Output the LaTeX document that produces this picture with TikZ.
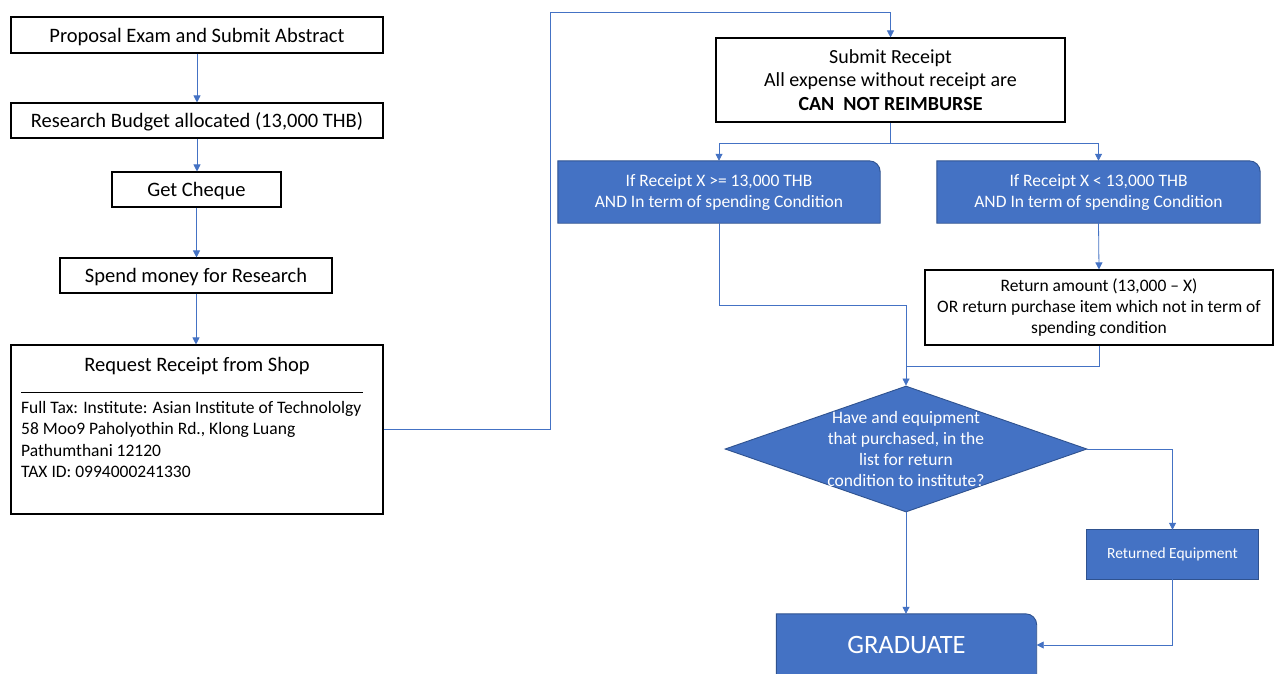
\documentclass[tikz,border=0pt]{standalone}
\usepackage{fontspec}
\setmainfont{Carlito}
\usetikzlibrary{arrows.meta,shapes.geometric,backgrounds}
\definecolor{bfill}{HTML}{4472C4}
\definecolor{bedge}{HTML}{2F528F}
\definecolor{lnk}{HTML}{4472C4}
\tikzset{
  wbox/.style={draw=black, line width=1.1pt, fill=white, inner sep=0pt, align=center},
  bbox/.style={inner sep=0pt, align=center, text=white},
  arr/.style={draw=lnk, line width=0.8pt, -{Triangle[width=7pt,length=7pt]}},
  ln/.style={draw=lnk, line width=0.8pt},
  bluebg/.style={fill=bfill, draw=bedge, line width=0.9pt},
  fa/.style={font=\fontsize{20.5}{24}\selectfont, text height=16.5pt, text depth=2pt},
  fb/.style={font=\fontsize{17.5}{21}\selectfont},
}
\newcommand\roundtr[1]{%
  \path[bluebg] (#1.south west) -- (#1.north west) -- ([xshift=-11pt]#1.north east)
    arc[start angle=90, end angle=0, radius=11pt] -- (#1.south east) -- cycle;}
\begin{document}
\begin{tikzpicture}[x=1pt, y=-1pt]
\useasboundingbox (0,0) rectangle (1277,673);

% left column
\node[wbox, minimum width=372pt, minimum height=36pt, fa] (p1) at (197,35) {Proposal Exam and Submit Abstract};
\node[wbox, minimum width=372pt, minimum height=35pt, fa] (p2) at (197,120.5) {Research Budget allocated (13,000 THB)};
\node[wbox, minimum width=169pt, minimum height=35pt, fa] (p3) at (196.5,189.5) {Get Cheque};
\node[wbox, minimum width=272pt, minimum height=35pt, fa] (p4) at (196,275.5) {Spend money for Research};
\node[wbox, minimum width=372pt, minimum height=169pt] (req) at (197,429.5) {};
\node[fa, inner sep=0pt] (reqtitle) at (197,364) {Request Receipt from Shop};
\draw[line width=0.8pt] (21,392) -- (363,392);
\node[anchor=north west, inner sep=0pt, align=left, font=\fontsize{17.5}{21.4}\selectfont] (reqbody) at (21,401)
  {Full Tax: Institute: Asian Institute of Technololgy\\58 Moo9 Paholyothin Rd., Klong Luang\\Pathumthani 12120\\TAX ID: 0994000241330};

% right part
\node[wbox, minimum width=349pt, minimum height=84pt, font=\fontsize{20}{23.5}\selectfont] (sub) at (890.5,80)
  {Submit Receipt\\All expense without receipt are\\\textbf{CAN\ \ NOT REIMBURSE}};
\node[bbox, minimum width=322pt, minimum height=62pt, fb] (b1) at (719,192)
  {If Receipt X >= 13,000 THB\\AND In term of spending Condition};
\node[bbox, minimum width=323pt, minimum height=62pt, fb] (b2) at (1098.5,192)
  {If Receipt X < 13,000 THB\\AND In term of spending Condition};
\node[wbox, minimum width=348pt, minimum height=75pt, fb] (ret) at (1099,307.5)
  {Return amount (13,000 – X)\\OR return purchase item which not in term of\\spending condition};
\node[diamond, bluebg, minimum width=362pt, minimum height=126pt, inner sep=0pt] (dia) at (906,449) {};
\node[bbox, font=\fontsize{17.5}{21}\selectfont] (diat) at (906,448.5)
  {Have and equipment\\that purchased, in the\\list for return\\condition to institute?};
\node[bbox, minimum width=171pt, minimum height=49pt, font=\fontsize{15.5}{18}\selectfont] (reteq) at (1172.5,554.5) {Returned Equipment};
\node[bbox, minimum width=260pt, minimum height=62pt, font=\fontsize{26.5}{30}\selectfont] (grad) at (906.5,645) {GRADUATE};

\begin{pgfonlayer}{background}
  \fill[white] (0,0) rectangle (1277,673);
  \roundtr{b1}
  \roundtr{b2}
  \roundtr{grad}
  \path[bluebg] (reteq.south west) rectangle (reteq.north east);
\end{pgfonlayer}

% connectors
\coordinate (c1) at (550,12);
\coordinate (split) at (890.5,143);
\coordinate (m1) at (906,305);
\coordinate (m2) at (906,366);
\draw[arr] (p1) -- (p2);
\draw[arr] (p2.south) -- (p3.north -| p2.south);
\draw[arr] (p3.south) -- (p4.north -| p3.south);
\draw[arr] (p4.south) -- (req.north -| p4.south);
\draw[arr] (req.east) -| (c1) -| (sub.north);
\draw[ln] (sub.south) -- (split);
\draw[arr] (split) -| (b1.north);
\draw[arr] (split) -| (b2.north);
\draw[arr] (b2.south) -- (ret.north);
\draw[arr] (b1.south) |- (m1) -- (dia.north);
\draw[ln] (ret.south) |- (m2);
\draw[arr] (dia.east) -| (reteq.north);
\draw[arr] (dia.south) -- (grad.north -| dia.south);
\draw[arr] (reteq.south) |- (grad.east);
\end{tikzpicture}
\end{document}
